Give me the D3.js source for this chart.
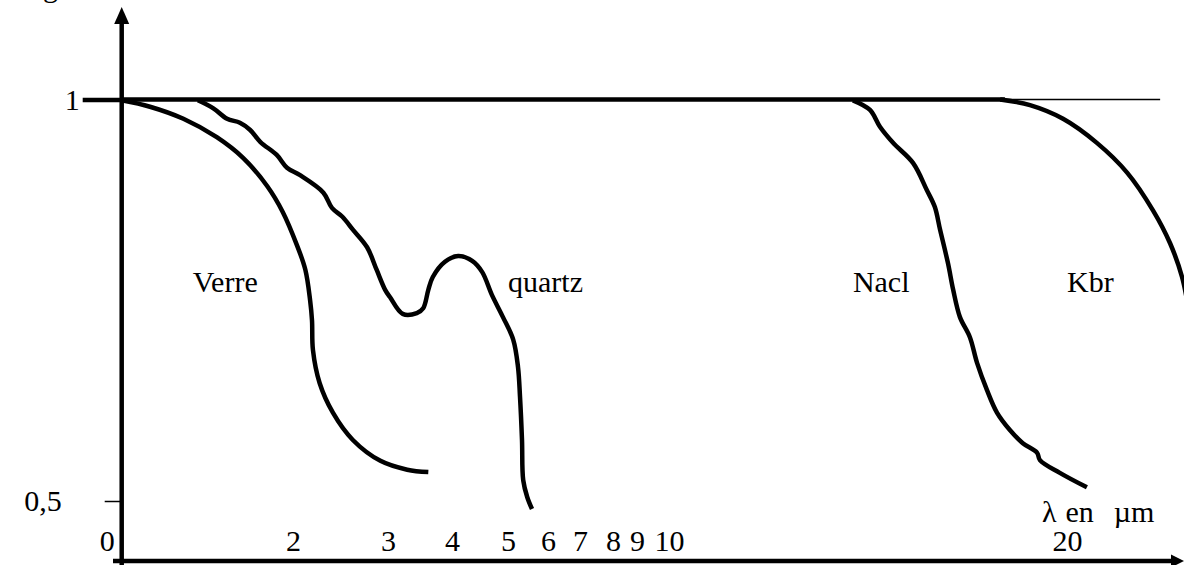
<!DOCTYPE html>
<html>
<head>
<meta charset="utf-8">
<script src="https://cdn.jsdelivr.net/npm/d3@7"></script>
<style>
  html, body { margin: 0; padding: 0; background: #fff; }
  svg { display: block; }
  text { font-family: "Liberation Serif", "Times New Roman", serif; fill: #000; }
</style>
</head>
<body>
<svg id="chart" width="1184" height="565"></svg>
<script>
// Wavelength tick labels (µm) and transmission tick labels
const xTickValues = [2, 3, 4, 5, 6, 7, 8, 9, 10, 20];
const yTickValues = [0.5, 1];
const yTickLabels = ["0,5", "1"];

// Transmission curves: wavelength (µm) and relative transmission
const verreLambda = [0, 0.33, 0.72, 1.11, 1.42, 1.70, 1.88, 2.04, 2.13, 2.18, 2.20, 2.21, 2.28, 2.42, 2.63, 2.92, 3.30, 3.63];
const verreT      = [0.999, 0.991, 0.976, 0.953, 0.927, 0.892, 0.860, 0.819, 0.788, 0.750, 0.725, 0.688, 0.647, 0.610, 0.576, 0.550, 0.539, 0.536];

const quartzLambda = [0.89, 1.07, 1.23, 1.38, 1.50, 1.62, 1.81, 1.93, 2.07, 2.32, 2.41, 2.52, 2.63, 2.78, 2.88, 2.97, 3.03, 3.23, 3.45, 3.55, 3.63, 3.70, 3.89, 4.11, 4.36, 4.54, 4.71, 4.91, 5.13, 5.25, 5.30, 5.35, 5.38, 5.48, 5.60];
const quartzT      = [0.999, 0.989, 0.976, 0.971, 0.962, 0.947, 0.931, 0.915, 0.906, 0.884, 0.865, 0.854, 0.838, 0.816, 0.788, 0.763, 0.754, 0.733, 0.734, 0.740, 0.763, 0.779, 0.798, 0.805, 0.799, 0.785, 0.757, 0.729, 0.701, 0.667, 0.630, 0.576, 0.526, 0.505, 0.433];

const naclLambda = [14.62, 15.05, 15.30, 15.63, 16.13, 16.48, 16.68, 16.81, 17.01, 17.14, 17.31, 17.56, 17.74, 17.99, 18.24, 18.57, 18.89, 19.25, 19.32, 19.82, 20.50];
const naclT      = [0.999, 0.987, 0.966, 0.946, 0.921, 0.887, 0.866, 0.838, 0.796, 0.763, 0.729, 0.704, 0.672, 0.638, 0.610, 0.588, 0.572, 0.560, 0.551, 0.535, 0.517];

const kbrLambda = [18.32, 19.07, 19.90, 20.75, 21.51, 22.16, 22.59, 22.89, 23.05];
const kbrT      = [1.0, 0.993, 0.976, 0.946, 0.909, 0.862, 0.821, 0.779, 0.740];

// Full-transmission reference: drawn bold up to 18.44 µm, thin beyond
const fullLambda = [0, 18.44, 22.34];

const materials = ["Verre", "quartz", "Nacl", "Kbr"];

// ---- layout ----
const svg = d3.select("#chart");
const W = 1184, H = 565;
const originX = 121.7, originY = 561;

// Hand-drawn, non-uniform wavelength axis
const x = d3.scaleLinear()
  .domain([0, 2, 3, 4, 5, 6, 7, 8, 9, 10, 20])
  .range([originX, 293, 388, 452, 508, 548, 580, 613, 637, 669, 1067]);
// Transmission axis: 0 at the origin, 0,5 and 1 at their marks
const y = d3.scaleLinear()
  .domain([0, 0.5, 1])
  .range([originY, 501, 99.5]);

const FONT = 30;
const STROKE = 4.5;

// Title line partly above the frame
svg.append("text").attr("x", 18).attr("y", -3.5)
  .attr("font-size", FONT).text("Fig.");

// Axes lines
svg.append("line").attr("x1", originX).attr("y1", 20).attr("x2", originX).attr("y2", H)
  .attr("stroke", "#000").attr("stroke-width", STROKE);
svg.append("path").attr("d", `M${originX},7 L${originX - 7.5},24 L${originX + 7.5},24 Z`).attr("fill", "#000");
svg.append("line").attr("x1", 113).attr("y1", originY).attr("x2", W - 10).attr("y2", originY)
  .attr("stroke", "#000").attr("stroke-width", STROKE);
svg.append("path").attr("d", `M${W},${originY} L${W - 13},${originY - 6.5} L${W - 13},${originY + 6.5} Z`).attr("fill", "#000");

// X tick labels, written just above the axis
const xAxis = d3.axisTop(x).tickValues(xTickValues).tickSize(0).tickPadding(10)
  .tickFormat(d3.format("d"));
const gx = svg.append("g").attr("transform", `translate(0,${originY})`).call(xAxis);
gx.select(".domain").remove();
gx.selectAll("text").attr("font-size", FONT).attr("font-family", null).attr("fill", "#000");
svg.append("text").attr("x", originX - 7).attr("y", originY - 10)
  .attr("text-anchor", "end").attr("font-size", FONT).text("0");

// Y ticks: short mark at 0,5, long mark at 1
const tickLen = { 0.5: 17, 1: 39 };
const tickPad = { 0.5: 43, 1: 3 };
yTickValues.forEach((v, i) => {
  const ax = d3.axisLeft(y).tickValues([v]).tickSize(tickLen[v]).tickPadding(tickPad[v])
    .tickFormat(() => yTickLabels[i]);
  const g = svg.append("g").attr("transform", `translate(${originX},0)`).call(ax);
  g.select(".domain").remove();
  g.selectAll("line").attr("stroke", "#000").attr("stroke-width", v === 1 ? STROKE : 1.5);
  g.selectAll("text").attr("font-size", FONT).attr("font-family", null).attr("fill", "#000");
});

// Reference line T = 1
svg.append("line").attr("x1", x(fullLambda[0])).attr("x2", x(fullLambda[1]))
  .attr("y1", y(1)).attr("y2", y(1)).attr("stroke", "#000").attr("stroke-width", STROKE);
svg.append("line").attr("x1", x(fullLambda[1])).attr("x2", x(fullLambda[2]))
  .attr("y1", y(1)).attr("y2", y(1)).attr("stroke", "#000").attr("stroke-width", 1.6);

// Curves
const line = d3.line().x(d => x(d[0])).y(d => y(d[1])).curve(d3.curveCatmullRom.alpha(0.5));
const series = [
  [verreLambda, verreT],
  [quartzLambda, quartzT],
  [naclLambda, naclT],
  [kbrLambda, kbrT]
];
series.forEach(([lam, t]) => {
  svg.append("path").datum(d3.zip(lam, t)).attr("d", line)
    .attr("fill", "none").attr("stroke", "#000").attr("stroke-width", STROKE)
    .attr("stroke-linejoin", "round");
});

// Material labels (anchored in chart units)
const labelAt = [[0.83, 0.76], [5.0, 0.76], [14.62, 0.76], [20.0, 0.76]];
materials.forEach((m, i) => {
  svg.append("text").attr("x", x(labelAt[i][0])).attr("y", y(labelAt[i][1]))
    .attr("font-size", FONT).text(m);
});

// Axis unit
const unit = svg.append("text").attr("x", x(19.37)).attr("y", 522).attr("font-size", FONT);
unit.append("tspan").text("λ");
unit.append("tspan").attr("dx", 9).text("en");
unit.append("tspan").attr("dx", 20).text("µm");
</script>
</body>
</html>
